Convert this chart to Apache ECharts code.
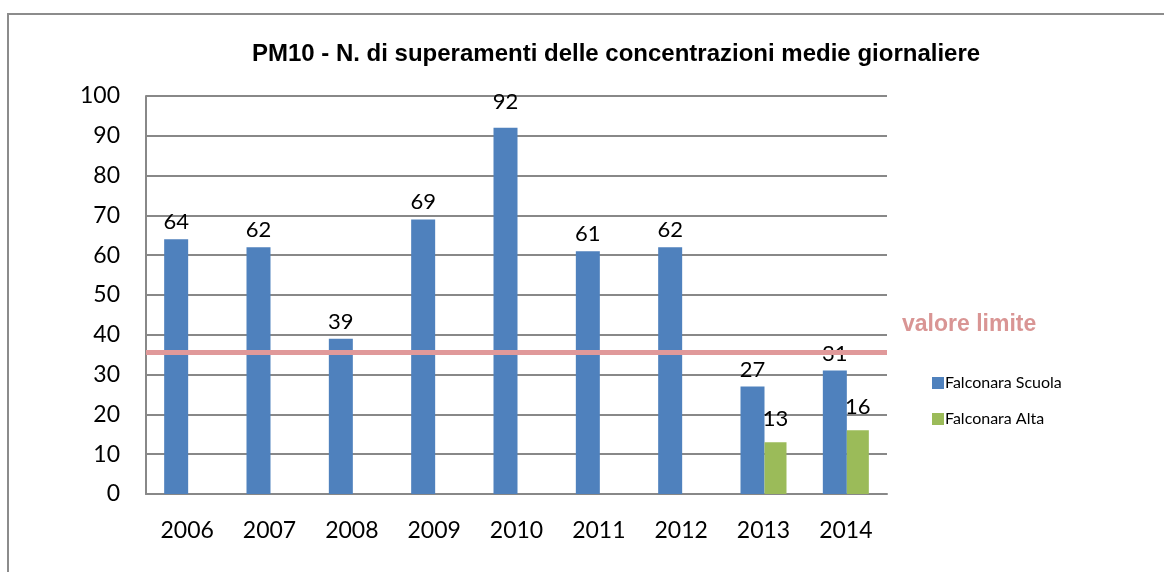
<!DOCTYPE html>
<html>
<head>
<meta charset="utf-8">
<script src="https://cdn.jsdelivr.net/npm/echarts@6/dist/echarts.min.js"></script>
<style>
  html, body { margin: 0; padding: 0; background: #fff; }
  #chart { width: 1164px; height: 572px; }
</style>
</head>
<body>
<div id="chart"></div>
<script>
// dati
var anni = ['2006', '2007', '2008', '2009', '2010', '2011', '2012', '2013', '2014'];
var scuola = [64, 62, 39, 69, 92, 61, 62, 27, 31];
var alta = [null, null, null, null, null, null, null, 13, 16];
var valoreLimite = 35.5;

var myChart = echarts.init(document.getElementById('chart'));

var font = 'Lato, "Open Sans", sans-serif';

// etichetta del 92 tenuta dentro l'area del grafico, come in Excel
var scuolaData = scuola.map(function(v) {
    if (v > 85) return { value: v, label: { distance: 15 } };
    return v;
});

var option = {
    animation: false,
    title: {
        text: 'PM10 - N. di superamenti delle concentrazioni medie giornaliere',
        left: 611,
        textAlign: 'center',
        top: 37,
        textStyle: {
            fontFamily: 'Liberation Sans, Arial, sans-serif',
            fontSize: 24,
            fontWeight: 'bold',
            color: '#000'
        }
    },
    legend: {
        orient: 'vertical',
        left: 927,
        top: 370,
        itemGap: 20,
        itemWidth: 12,
        itemHeight: 12,
        icon: 'rect',
        textStyle: { fontFamily: font, fontSize: 16, color: '#000', padding: [0, 0, 0, -4] },
        data: ['Falconara Scuola', 'Falconara Alta']
    },
    grid: {
        left: 146,
        top: 96,
        width: 741,
        height: 398
    },
    xAxis: {
        type: 'category',
        data: anni,
        axisTick: { show: false },
        axisLine: { lineStyle: { color: '#888', width: 2 } },
        axisLabel: { fontFamily: font, fontSize: 23, color: '#000', margin: 25 }
    },
    yAxis: {
        type: 'value',
        min: 0,
        max: 100,
        interval: 10,
        axisLine: { show: true, lineStyle: { color: '#888', width: 2 } },
        axisTick: { show: false },
        splitLine: { lineStyle: { color: '#888', width: 2 } },
        axisLabel: { fontFamily: font, fontSize: 23, color: '#000', margin: 26 }
    },
    series: [
        {
            name: 'Falconara Scuola',
            type: 'bar',
            data: scuolaData,
            barWidth: 24,
            barGap: '0%',
            itemStyle: { color: '#4f81bd' },
            label: {
                show: true,
                position: 'top',
                distance: 6,
                fontFamily: font,
                fontSize: 22,
                color: '#000'
            },
            markLine: {
                silent: true,
                symbol: 'none',
                label: { show: false },
                lineStyle: { color: '#e0999a', width: 5, type: 'solid' },
                data: [{ yAxis: valoreLimite }]
            }
        },
        {
            name: 'Falconara Alta',
            type: 'bar',
            data: alta,
            barWidth: 22,
            itemStyle: { color: '#9bbb59' },
            label: {
                show: true,
                position: 'top',
                distance: 12,
                fontFamily: font,
                fontSize: 22,
                color: '#000'
            }
        }
    ],
    graphic: [
        {
            type: 'rect',
            shape: { x: 8, y: 14, width: 1200, height: 600 },
            style: { fill: 'none', stroke: '#8c8c8c', lineWidth: 2 },
            z: -1
        },
        {
            type: 'text',
            left: 902,
            top: 313,
            style: {
                text: 'valore limite',
                fill: '#d99594',
                font: 'bold 23px "Liberation Sans", Arial, sans-serif'
            }
        }
    ]
};

myChart.setOption(option);
</script>
</body>
</html>
